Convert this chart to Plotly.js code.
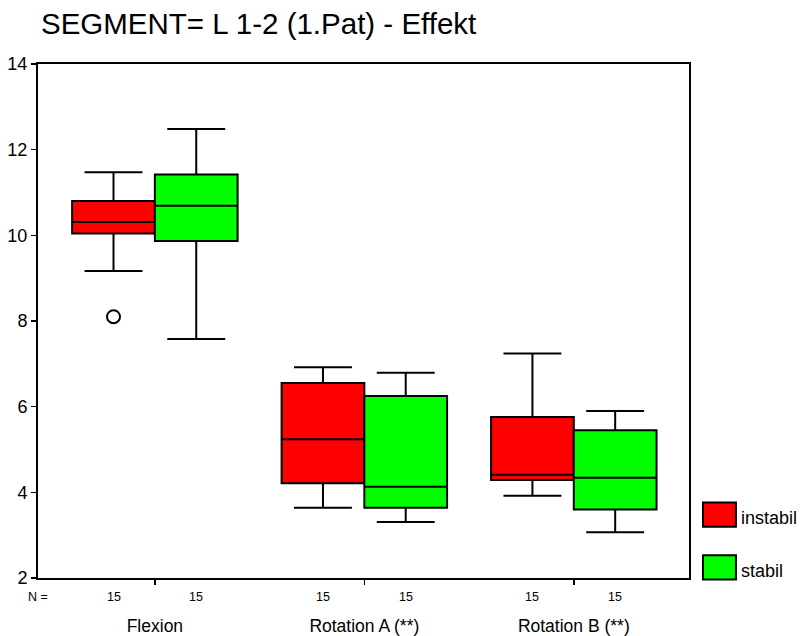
<!DOCTYPE html>
<html>
<head>
<meta charset="utf-8">
<script src="https://cdn.plot.ly/plotly-3.0.1.min.js"></script>
<style>html,body{margin:0;padding:0;background:#fff;}#chart{width:803px;height:636px;}</style>
</head>
<body>
<div id="chart"></div>
<script>
// ---- data ----
const categories = ['Flexion', 'Rotation A (**)', 'Rotation B (**)'];
const groupNames = ['instabil', 'stabil'];
const groupColors = ['#FF0000', '#00FF00'];

const instabilLower  = [9.17, 3.64, 3.92];
const instabilQ1     = [10.04, 4.21, 4.29];
const instabilMedian = [10.31, 5.24, 4.41];
const instabilQ3     = [10.80, 6.55, 5.76];
const instabilUpper  = [11.47, 6.92, 7.24];
const instabilOutliers = [[8.10], [], []];

const stabilLower  = [7.58, 3.31, 3.07];
const stabilQ1     = [9.87, 3.64, 3.60];
const stabilMedian = [10.69, 4.13, 4.34];
const stabilQ3     = [11.42, 6.25, 5.45];
const stabilUpper  = [12.48, 6.79, 5.90];

const instabilN = [15, 15, 15];
const stabilN   = [15, 15, 15];

const yTickVals = [2, 4, 6, 8, 10, 12, 14];
const titleText = 'SEGMENT= L 1-2 (1.Pat) - Effekt';

// ---- build ----
const FONT = 'Liberation Sans, Arial, sans-serif';
const boxgap = 0.21;

function boxTrace(name, color, lo, q1, med, q3, hi, pts) {
  const t = {
    type: 'box', name: name, x: categories,
    q1: q1, median: med, q3: q3, lowerfence: lo, upperfence: hi,
    boxpoints: pts ? 'outliers' : false,
    fillcolor: color,
    line: {color: '#000000', width: 2},
    marker: {color: '#000000', symbol: 'circle-open', size: 13, line: {width: 2, color: '#000000'}},
    whiskerwidth: 0.7,
    showlegend: false, hoverinfo: 'y'
  };
  if (pts) t.y = pts;
  return t;
}

const data = [
  boxTrace(groupNames[0], groupColors[0], instabilLower, instabilQ1, instabilMedian, instabilQ3, instabilUpper, instabilOutliers),
  boxTrace(groupNames[1], groupColors[1], stabilLower, stabilQ1, stabilMedian, stabilQ3, stabilUpper, null)
];

const half = (1 - boxgap) / 4;
const annotations = [{
  text: 'N =', xref: 'paper', yref: 'paper', x: 0, y: 0, xanchor: 'center', yanchor: 'middle',
  yshift: -19, showarrow: false, font: {family: FONT, size: 12.5, color: '#000'}
}];
categories.forEach((c, i) => {
  [[instabilN[i], -half], [stabilN[i], half]].forEach(([n, off]) => {
    annotations.push({
      text: String(n), xref: 'x', yref: 'paper', x: i + off, y: 0, xanchor: 'center', yanchor: 'middle',
      yshift: -19, showarrow: false, font: {family: FONT, size: 12.5, color: '#000'}
    });
  });
});

// manual legend (large swatches as in the reference)
const shapes = [];
groupNames.forEach((g, k) => {
  const yTop = 0.147 - k * 0.1026;
  shapes.push({type: 'rect', xref: 'paper', yref: 'paper', x0: 1.0215, x1: 1.0721, y0: yTop - 0.0475, y1: yTop,
    fillcolor: groupColors[k], line: {color: '#000', width: 2}});
  annotations.push({text: g, xref: 'paper', yref: 'paper', x: 1.077, y: yTop - 0.030, xanchor: 'left', yanchor: 'middle',
    showarrow: false, font: {family: FONT, size: 18, color: '#000'}});
});

const layout = {
  width: 803, height: 636,
  margin: {l: 37.5, r: 114, t: 64, b: 58},
  paper_bgcolor: '#fff', plot_bgcolor: '#fff',
  title: {text: titleText, xref: 'container', yref: 'container', x: 41 / 803, xanchor: 'left',
    y: 1 - 24 / 636, yanchor: 'middle', font: {family: FONT, size: 29.5, color: '#000'}},
  boxmode: 'group', boxgap: boxgap, boxgroupgap: 0,
  showlegend: false,
  xaxis: {
    type: 'category', range: [-0.558, 2.55],
    showline: true, linecolor: '#000', linewidth: 2, mirror: true,
    ticks: 'outside', ticklen: 5, tickwidth: 1.5, tickcolor: '#000',
    showgrid: false, zeroline: false,
    ticklabelstandoff: 26,
    tickfont: {family: FONT, size: 17.5, color: '#000'}
  },
  yaxis: {
    range: [2, 14], tickvals: yTickVals,
    showline: true, linecolor: '#000', linewidth: 2, mirror: true,
    ticks: 'outside', ticklen: 5, tickwidth: 1.5, tickcolor: '#000',
    showgrid: false, zeroline: false,
    tickfont: {family: FONT, size: 18, color: '#000'}
  },
  annotations: annotations,
  shapes: shapes
};

Plotly.newPlot('chart', data, layout, {displayModeBar: false, staticPlot: true});
</script>
</body>
</html>
